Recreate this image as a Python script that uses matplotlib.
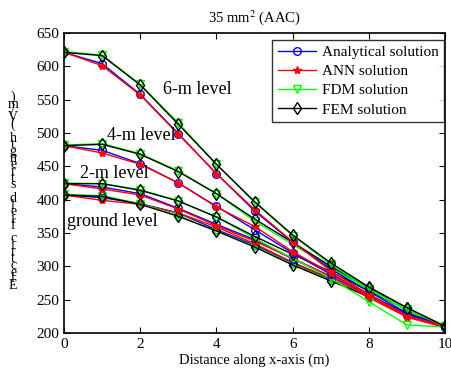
import matplotlib
matplotlib.use("Agg")
import matplotlib.pyplot as plt
import numpy as np

plt.rcParams['font.family'] = ['Liberation Serif', 'DejaVu Serif']
plt.rcParams['mathtext.fontset'] = 'stix'

x = [0, 1, 2, 3, 4, 5, 6, 7, 8, 9, 10]

ana_6m = [621, 604, 558, 499, 439, 383, 336, 296, 262, 230, 210]
ann_6m = [621, 601, 557, 498, 439, 385, 337, 293, 258, 226, 210]
fdm_6m = [622, 617, 573, 515, 453, 396, 346, 303, 266, 236, 210]
fem_6m = [621, 616, 572, 513, 453, 397, 347, 305, 269, 238, 210]

ana_4m = [481, 474, 454, 425, 390, 355, 320, 288, 258, 228, 209]
ann_4m = [481, 470, 453, 425, 389, 360, 322, 290, 256, 225, 209]
fdm_4m = [482, 484, 469, 443, 409, 368, 333, 298, 265, 234, 210]
fem_4m = [481, 483, 468, 442, 409, 371, 336, 300, 268, 237, 210]

ana_2m = [424, 419, 409, 387, 363, 340, 311, 285, 256, 227, 209]
ann_2m = [424, 416, 407, 386, 361, 338, 312, 285, 254, 224, 209]
fdm_2m = [425, 424, 415, 398, 374, 342, 312, 282, 247, 212, 209]
fem_2m = [424, 424, 414, 398, 374, 345, 318, 292, 263, 235, 209]

ana_gl = [407, 403, 394, 380, 355, 332, 305, 280, 254, 227, 209]
ann_gl = [407, 399, 393, 380, 359, 334, 306, 282, 253, 224, 208]
fdm_gl = [408, 406, 394, 376, 353, 330, 303, 279, 256, 231, 209]
fem_gl = [407, 405, 393, 375, 353, 329, 302, 278, 255, 230, 209]

levels = [
    (ana_gl, ann_gl, fdm_gl, fem_gl),
    (ana_2m, ann_2m, fdm_2m, fem_2m),
    (ana_4m, ann_4m, fdm_4m, fem_4m),
    (ana_6m, ann_6m, fdm_6m, fem_6m),
]
method_names = ['Analytical solution', 'ANN solution', 'FDM solution', 'FEM solution']
level_texts = ['ground level', '2-m level', '4-m level', '6-m level']
level_text_pos = [(0.08, 367), (0.42, 439), (1.12, 497), (2.6, 565)]

styles = [
    dict(color='#0000ff', marker='o', mfc='none', ms=5.5, mew=1.0),
    dict(color='#ff0000', marker='*', ms=6, mew=1.0),
    dict(color='#00ff00', marker='v', mfc='none', ms=6, mew=1.0),
    dict(color='#000000', marker='d', mfc='none', ms=6, mew=1.0),
]

fig = plt.figure(figsize=(4.51, 3.75), dpi=100)
ax = fig.add_axes([0.142, 0.112, 0.845, 0.80])

for li, lev in enumerate(levels):
    for mi, series in enumerate(lev):
        ax.plot(x, series, lw=1.0, label=method_names[mi] if li == 0 else None,
                **styles[mi])

for t, (tx, ty) in zip(level_texts, level_text_pos):
    ax.text(tx, ty, t, fontsize=13, va='center', ha='left')

ax.set_xlim(0, 10)
ax.set_ylim(200, 650)
ax.set_xticks([0, 2, 4, 6, 8, 10])
ax.set_yticks(np.arange(200, 651, 50))
ax.tick_params(direction='in', top=True, right=True, labelsize=11, length=4, width=0.8)
for s in ax.spines.values():
    s.set_linewidth(1.2)

ax.set_title(r'35 mm$^2$ (AAC)', fontsize=10.5, pad=8)
ax.set_xlabel('Distance along x-axis (m)', fontsize=10.5, labelpad=2)

ylab = 'Electric field strength (V/m)'
fig.text(0.029, 0.49, '\n'.join(reversed(ylab)), fontsize=10, ha='center', va='center',
         linespacing=0.37)

leg = ax.legend(loc='upper right', bbox_to_anchor=(0.998, 0.977), fontsize=11,
                frameon=True, fancybox=False, edgecolor='black', borderpad=0.35,
                labelspacing=0.36, handlelength=2.5, handletextpad=0.4,
                borderaxespad=0.0)
leg.get_frame().set_linewidth(1.0)

fig.savefig('out.png', dpi=100)
